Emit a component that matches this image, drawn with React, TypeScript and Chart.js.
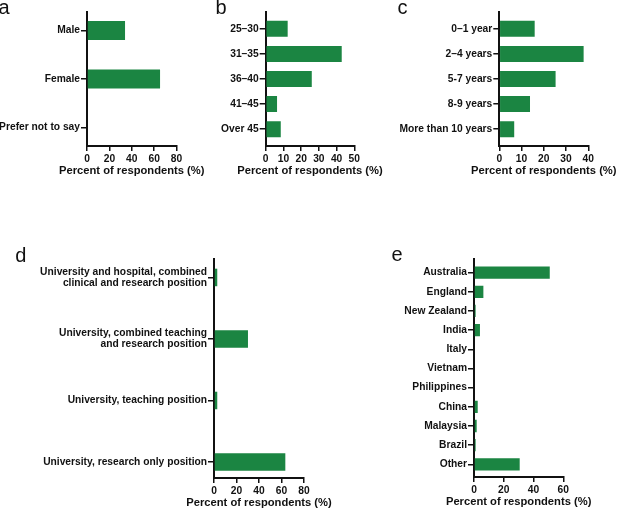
import React, { useEffect, useRef } from "react";
import { Chart, registerables } from "chart.js";

Chart.register(...registerables);

// ---- data ----
const genderLabels = ["Male", "Female", "Prefer not to say"];
const genderValues = [34, 65.3, 0];

const ageLabels = ["25–30", "31–35", "36–40", "41–45", "Over 45"];
const ageValues = [12.4, 42.9, 26, 6.4, 8.5];

const experienceLabels = ["0–1 year", "2–4 years", "5-7 years", "8-9 years", "More than 10 years"];
const experienceValues = [15.9, 37.9, 25.3, 13.8, 6.7];

const positionLabels: (string | string[])[] = [
  ["University and hospital, combined", "clinical and research position"],
  ["University, combined teaching", "and research position"],
  "University, teaching position",
  "University, research only position",
];
const positionValues = [2.9, 30.2, 2.9, 63.4];

const countryLabels = [
  "Australia",
  "England",
  "New Zealand",
  "India",
  "Italy",
  "Vietnam",
  "Philippines",
  "China",
  "Malaysia",
  "Brazil",
  "Other",
];
const countryValues = [50.9, 6.3, 1.1, 4, 0, 0, 0, 2.5, 1.8, 1.1, 30.7];

const xTitle = "Percent of respondents (%)";

// ---- styling ----
const GREEN = "#1b8542";
const INK = "#111111";
const FONT = "'Liberation Sans', Arial, Helvetica, sans-serif";
const X_AXIS_H = 31;
const TITLE_OFFSET = 25;

type Box = { left: number; top: number; width: number; height: number };
type Area = { left: number; top: number; right: number; bottom: number };

type PanelProps = {
  labels: (string | string[])[];
  values: number[];
  xMax: number;
  xStep: number;
  yMin: number;
  yMax: number;
  barPct: number;
  canvas: Box;
  area: Area;
};

// draws the x-axis title centred under the axis, without Chart.js' maxWidth squeeze
const axisTitlePlugin = {
  id: "axisTitle",
  afterDraw(chart: any) {
    const { ctx, chartArea } = chart;
    ctx.save();
    ctx.font = `bold 11.2px ${FONT}`;
    ctx.fillStyle = INK;
    ctx.textAlign = "center";
    ctx.textBaseline = "middle";
    ctx.fillText(xTitle, (chartArea.left + chartArea.right) / 2, chartArea.bottom + TITLE_OFFSET);
    ctx.restore();
  },
};

function Panel(p: PanelProps) {
  const ref = useRef<HTMLCanvasElement>(null);
  useEffect(() => {
    if (!ref.current) return;
    const c = p.canvas;
    const a = p.area;
    const tickFont = { family: FONT, size: 10.25, weight: "bold" as const, lineHeight: 1.2 };
    const chart = new Chart(ref.current, {
      type: "bar",
      data: {
        datasets: [
          {
            data: p.values.map((v, i) => ({ x: v, y: i })),
            backgroundColor: GREEN,
            borderWidth: 0,
            categoryPercentage: 1,
            barPercentage: p.barPct,
          },
        ],
      },
      plugins: [axisTitlePlugin],
      options: {
        indexAxis: "y",
        responsive: false,
        maintainAspectRatio: false,
        animation: false,
        devicePixelRatio: 1,
        layout: {
          padding: {
            left: 0,
            top: a.top - c.top,
            right: c.left + c.width - a.right,
            bottom: c.top + c.height - a.bottom - X_AXIS_H,
          },
        },
        plugins: {
          legend: { display: false },
          tooltip: { enabled: false },
        },
        scales: {
          x: {
            type: "linear",
            position: "bottom",
            min: 0,
            max: p.xMax,
            offset: false,
            ticks: {
              stepSize: p.xStep,
              font: tickFont,
              color: INK,
              padding: 2,
              maxRotation: 0,
            },
            grid: {
              display: true,
              offset: false,
              drawOnChartArea: false,
              drawTicks: true,
              tickLength: 5,
              lineWidth: 1.5,
              color: INK,
            },
            border: { display: true, color: INK, width: 2 },
            afterFit: (s: any) => {
              s.height = X_AXIS_H;
            },
          },
          y: {
            type: "linear",
            position: "left",
            reverse: true,
            offset: false,
            min: p.yMin,
            max: p.yMax,
            afterBuildTicks: (s: any) => {
              s.ticks = p.labels.map((_, i) => ({ value: i }));
            },
            ticks: {
              autoSkip: false,
              font: { ...tickFont, lineHeight: 1.1 },
              color: INK,
              padding: 1,
              callback: (v: any) => p.labels[Math.round(Number(v))] as any,
            },
            grid: {
              display: true,
              offset: false,
              drawOnChartArea: false,
              drawTicks: true,
              tickLength: 6,
              lineWidth: 1.5,
              color: INK,
            },
            border: { display: true, color: INK, width: 2 },
            afterFit: (s: any) => {
              s.width = a.left - c.left;
            },
          },
        },
      },
    } as any);
    return () => chart.destroy();
  }, []);
  const c = p.canvas;
  return (
    <canvas
      ref={ref}
      width={c.width}
      height={c.height}
      style={{ position: "absolute", left: c.left, top: c.top, width: c.width, height: c.height }}
    />
  );
}

function Letter({ text, left, top }: { text: string; left: number; top: number }) {
  return (
    <div
      style={{
        position: "absolute",
        left,
        top,
        fontFamily: FONT,
        fontSize: 20,
        lineHeight: "20px",
        color: INK,
      }}
    >
      {text}
    </div>
  );
}

export default function App() {
  return (
    <div
      style={{
        position: "fixed",
        left: 0,
        top: 0,
        width: 617,
        height: 509,
        background: "#ffffff",
        overflow: "hidden",
      }}
    >
      <Panel
        labels={genderLabels}
        values={genderValues}
        xMax={80}
        xStep={20}
        yMin={-0.38}
        yMax={2.38}
        barPct={0.39}
        canvas={{ left: 0, top: 0, width: 215, height: 190 }}
        area={{ left: 87, top: 12, right: 176.5, bottom: 146 }}
      />
      <Panel
        labels={ageLabels}
        values={ageValues}
        xMax={50}
        xStep={10}
        yMin={-0.67}
        yMax={4.67}
        barPct={0.64}
        canvas={{ left: 205, top: 0, width: 200, height: 190 }}
        area={{ left: 265.7, top: 12, right: 354.3, bottom: 146 }}
      />
      <Panel
        labels={experienceLabels}
        values={experienceValues}
        xMax={40}
        xStep={10}
        yMin={-0.67}
        yMax={4.67}
        barPct={0.64}
        canvas={{ left: 395, top: 0, width: 222, height: 190 }}
        area={{ left: 499.3, top: 12, right: 588.3, bottom: 146 }}
      />
      <Panel
        labels={positionLabels}
        values={positionValues}
        xMax={80}
        xStep={20}
        yMin={-0.3}
        yMax={3.26}
        barPct={0.285}
        canvas={{ left: 0, top: 235, width: 340, height: 274 }}
        area={{ left: 214, top: 259, right: 304, bottom: 478 }}
      />
      <Panel
        labels={countryLabels}
        values={countryValues}
        xMax={60}
        xStep={20}
        yMin={-0.71}
        yMax={10.66}
        barPct={0.64}
        canvas={{ left: 395, top: 235, width: 222, height: 274 }}
        area={{ left: 474, top: 259, right: 563.3, bottom: 477 }}
      />
      <Letter text="a" left={-1.5} top={-3} />
      <Letter text="b" left={215.4} top={-3} />
      <Letter text="c" left={397.5} top={-3.5} />
      <Letter text="d" left={15.3} top={245} />
      <Letter text="e" left={391.5} top={244} />
    </div>
  );
}
